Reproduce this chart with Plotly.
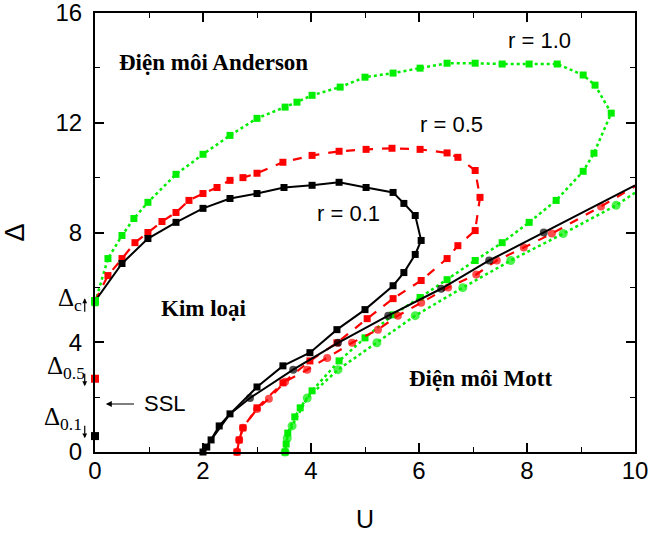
import plotly.graph_objects as go

# ---------------- data ----------------
# r = 0.1 : square curve (loop) and circle branch
r01_sq_U = [0, 0.5, 0.98, 1.5, 2.0, 2.5, 3.0, 3.5, 4.02, 4.52, 5.02, 5.52, 5.72, 5.93, 6.04,
            5.93, 5.72, 5.52, 5.0, 4.48, 3.98, 3.48, 3.0, 2.5, 2.3, 2.15, 2.07, 2.0]
r01_sq_D = [5.5, 6.87, 7.78, 8.37, 8.88, 9.24, 9.42, 9.64, 9.72, 9.83, 9.64, 9.46, 9.06, 8.62, 7.71,
            7.2, 6.54, 6.06, 5.19, 4.46, 3.62, 3.14, 2.37, 1.39, 0.95, 0.44, 0.18, 0]
r01_ci_U = [2.0, 2.15, 2.5, 2.87, 3.67, 4.5, 5.43, 6.41, 7.3, 8.31, 10.0]
r01_ci_D = [0, 0.44, 1.39, 1.97, 3.0, 3.98, 4.97, 5.95, 6.98, 8.0, 9.72]

# r = 0.5
r05_sq_U = [0, 0.24, 0.5, 0.74, 0.98, 1.24, 1.5, 1.74, 2.0, 2.26, 2.5, 2.74, 3.0, 3.48, 4.02, 4.52,
            5.02, 5.5, 6.02, 6.52, 6.72, 7.04, 7.13, 7.04, 6.72, 6.52, 6.04, 5.52, 5.04, 4.48, 3.98,
            3.48, 3.0, 2.74, 2.67, 2.63]
r05_sq_D = [5.5, 6.43, 7.05, 7.63, 8.0, 8.4, 8.73, 9.17, 9.42, 9.64, 9.9, 10.0, 10.16, 10.56, 10.81, 10.96,
            11.03, 11.07, 11.03, 10.9, 10.74, 10.26, 9.28, 8.07, 7.52, 7.05, 6.25, 5.59, 4.86, 3.98, 3.32,
            2.52, 1.61, 0.88, 0.44, 0]
r05_ci_U = [2.63, 2.67, 2.74, 3.0, 3.22, 3.52, 3.93, 4.3, 4.76, 5.24, 5.61, 6.04, 6.54, 7.06, 7.44,
            7.94, 8.46, 9.37, 10.0]
r05_ci_D = [0, 0.44, 0.88, 1.57, 1.94, 2.56, 3.0, 3.43, 3.98, 4.46, 4.97, 5.44, 6.0, 6.47, 6.98,
            7.45, 7.96, 8.95, 9.68]

# r = 1.0
r10_sq_U = [0, 0.24, 0.5, 0.72, 0.98, 1.5, 2.0, 2.5, 3.0, 3.52, 3.74, 4.02, 4.54, 5.0, 5.52, 6.02,
            6.52, 7.04, 7.54, 8.04, 8.56, 9.04, 9.26, 9.56, 9.24, 9.04, 8.54, 8.04, 7.54, 7.04, 6.52,
            6.02, 5.52, 5.0, 4.52, 4.02, 3.8, 3.7, 3.57, 3.54, 3.52]
r10_sq_D = [5.44, 7.05, 7.89, 8.51, 9.1, 10.12, 10.85, 11.54, 12.16, 12.57, 12.75, 13.0, 13.3, 13.66, 13.81, 13.99,
            14.17, 14.17, 14.14, 14.14, 14.14, 13.74, 13.37, 12.35, 10.89, 10.23, 9.17, 8.37, 7.63, 6.98, 6.28,
            5.63, 5.0, 4.16, 3.32, 2.23, 1.61, 1.28, 0.69, 0.29, 0]
r10_ci_U = [3.52, 3.56, 3.65, 3.93, 4.5, 5.22, 5.93, 6.81, 7.7, 8.67, 9.65, 10.0]
r10_ci_D = [0, 0.5, 0.95, 1.97, 3.0, 3.98, 4.97, 5.99, 6.98, 7.96, 8.99, 9.45]

# critical points on the U = 0 axis
crit_labels = ["c", "0.5", "0.1"]
crit_D = [5.5, 2.67, 0.58]

x_ticks = [0, 2, 4, 6, 8, 10]
y_ticks = [0, 4, 8, 12, 16]

X_RANGE = [0, 10]
Y_RANGE = [0, 16]

# ---------------- figure ----------------
BLACK, RED, GREEN = "#000000", "#ff0000", "#00ee00"
SERIF = "Liberation Serif, Times New Roman, serif"
SANS = "Liberation Sans, Arial, sans-serif"

fig = go.Figure()


def curve(x, y, color, dash, symbol, size, width, msizes=None):
    fig.add_trace(go.Scatter(
        x=x, y=y, mode="lines+markers",
        line=dict(color=color, dash=dash, width=width),
        marker=dict(symbol=symbol, color=color, size=msizes if msizes else size, line=dict(width=0)),
        cliponaxis=False, showlegend=False, hoverinfo="skip"))


# green (r = 1.0), dotted
curve(r10_ci_U, r10_ci_D, GREEN, "dot", "circle", 9, 2.5, [9] * (len(r10_ci_U) - 1) + [0])
curve(r10_sq_U, r10_sq_D, GREEN, "dot", "square", 7, 2.5)
# red (r = 0.5), dashed
curve(r05_ci_U, r05_ci_D, RED, "dash", "circle", 8, 2.2, [8] * (len(r05_ci_U) - 1) + [0])
curve(r05_sq_U, r05_sq_D, RED, "dash", "square", 7, 2.2)
# black (r = 0.1), solid
curve(r01_ci_U, r01_ci_D, BLACK, "solid", "circle", 8, 2, [0, 0, 0] + [8] * (len(r01_ci_U) - 4) + [0])
curve(r01_sq_U, r01_sq_D, BLACK, "solid", "square", 7, 2)

# critical points on the axis
fig.add_trace(go.Scatter(x=[0, 0, 0], y=crit_D, mode="markers",
                         marker=dict(symbol="square", size=8, color=[GREEN, RED, BLACK]),
                         cliponaxis=False, showlegend=False, hoverinfo="skip"))


# region / curve labels
def label(x, y, text, font, size, bold=False):
    fig.add_annotation(x=x, y=y, xref="x", yref="y", text=f"<b>{text}</b>" if bold else text,
                       showarrow=False, font=dict(family=font, size=size, color="black"))


label(2.2, 14.2, "Điện môi Anderson", SERIF, 23, True)
label(2.02, 5.22, "Kim loại", SERIF, 23, True)
label(7.13, 2.67, "Điện môi Mott", SERIF, 23, True)
label(8.24, 15.0, "r = 1.0", SANS, 22)
label(6.61, 11.95, "r = 0.5", SANS, 22)
label(4.7, 8.7, "r = 0.1", SANS, 22)
label(1.3, 1.75, "SSL", SANS, 22)

# SSL arrow
fig.add_annotation(x=0.2, y=1.75, xref="x", yref="y", ax=0.75, ay=1.75, axref="x", ayref="y",
                   text="", showarrow=True, arrowhead=2, arrowsize=1, arrowwidth=1.2, arrowcolor="black")


# Delta labels (outside the plot: use paper coordinates)
def px(u):
    return (u - X_RANGE[0]) / (X_RANGE[1] - X_RANGE[0])


def py(d):
    return (d - Y_RANGE[0]) / (Y_RANGE[1] - Y_RANGE[0])


lab_pos = [(-0.72, 5.55), (-0.93, 2.43), (-0.98, 0.6)]
arr_head = [5.6, 2.4, 0.5]
arr_off = [15, -14, -14]  # tail offset in pixels (positive = below)
for (lx, ly), lab, hd, off in zip(lab_pos, crit_labels, arr_head, arr_off):
    fig.add_annotation(x=px(lx), y=py(ly), xref="paper", yref="paper", text=f"Δ<sub>{lab}</sub>",
                       showarrow=False, font=dict(family=SERIF, size=25, color="black"))
    fig.add_annotation(x=px(-0.19), y=py(hd), xref="paper", yref="paper",
                       ax=0, ay=off, axref="pixel", ayref="pixel",
                       text="", showarrow=True, arrowhead=2, arrowsize=0.8, arrowwidth=1.2,
                       arrowcolor="black")

axis_common = dict(showline=True, linecolor="black", linewidth=2, mirror="ticks", ticks="inside",
                   ticklen=9, tickwidth=1.5, tickcolor="black", showgrid=False, zeroline=False,
                   automargin=False, ticklabeloverflow="allow",
                   tickfont=dict(family=SANS, size=24, color="black"))

fig.update_xaxes(range=X_RANGE, tickvals=x_ticks, ticktext=[str(v) for v in x_ticks],
                 minor=dict(dtick=1, ticks="inside", ticklen=5, tickcolor="black", tickwidth=1.2),
                 ticklabelstandoff=-4,
                 title=dict(text="U", font=dict(family=SANS, size=25, color="black"), standoff=28),
                 **axis_common)
fig.update_yaxes(range=Y_RANGE, tickvals=y_ticks, ticktext=[str(v) for v in y_ticks],
                 minor=dict(dtick=2, ticks="inside", ticklen=5, tickcolor="black", tickwidth=1.2),
                 ticklabelstandoff=6,
                 title=dict(text="Δ", font=dict(family=SANS, size=27, color="black"), standoff=30),
                 **axis_common)

fig.update_layout(width=652, height=538, margin=dict(l=95, r=17, t=13, b=86),
                  plot_bgcolor="white", paper_bgcolor="white")

# remove the page's default body margin so the figure fills the window exactly
fig.write_html("out.html", config={"displayModeBar": False},
               post_script="document.body.style.margin='0';")
